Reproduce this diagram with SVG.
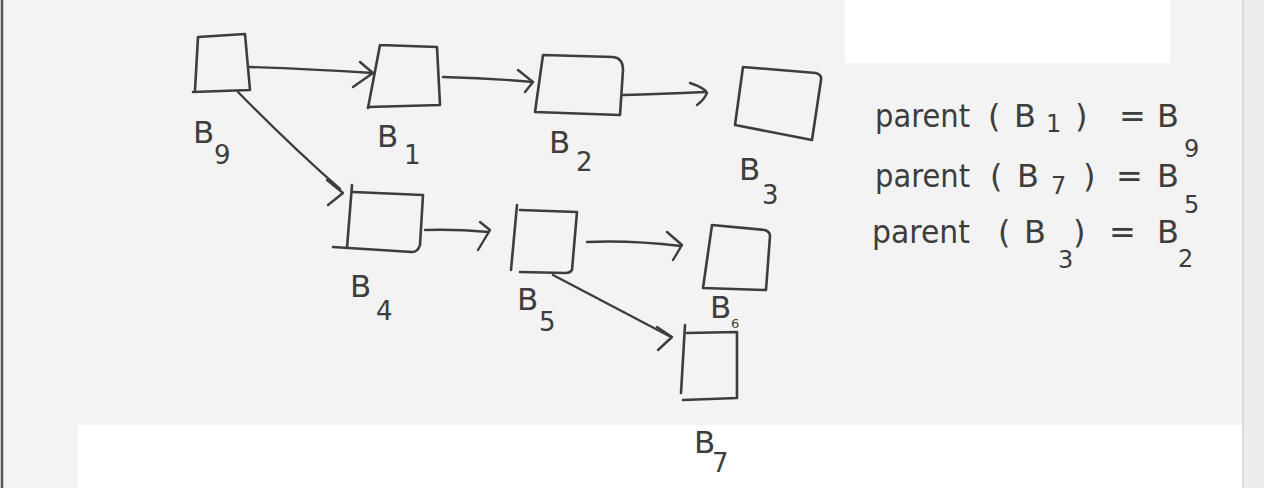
<svg xmlns="http://www.w3.org/2000/svg" width="1264" height="488" viewBox="0 0 1264 488">
<style>
.bx{fill:none;stroke:#3d3d3d;stroke-width:2.6;stroke-linecap:round;stroke-linejoin:round}
.ln{fill:none;stroke:#3d3d3d;stroke-width:2.4;stroke-linecap:round;stroke-linejoin:round}
.lb{font-family:"DejaVu Sans","Liberation Sans",sans-serif;fill:#3d3d3d;font-size:31px}
.sb{font-family:"DejaVu Sans","Liberation Sans",sans-serif;fill:#3d3d3d;font-size:26px}
.eq{font-family:"DejaVu Sans","Liberation Sans",sans-serif;fill:#3d3d3d;font-size:32px}
.es{font-family:"DejaVu Sans","Liberation Sans",sans-serif;fill:#3d3d3d;font-size:24px}
</style>
<rect x="0" y="0" width="1264" height="488" fill="#f3f3f3"/>
<rect x="845" y="0" width="325" height="63" fill="#ffffff"/>
<rect x="78" y="425" width="1164" height="63" fill="#ffffff"/>
<rect x="1243" y="0" width="21" height="488" fill="#ececec"/>
<line x1="1243" y1="0" x2="1243" y2="488" stroke="#d6d6d6" stroke-width="1.5"/>
<line x1="2" y1="0" x2="2" y2="488" stroke="#555555" stroke-width="2.5"/>

<g id="connectors">
  <path class="ln" d="M250,67 Q310,69 373,73"/>
  <path class="ln" d="M360,62 L373,73 L353,87"/>
  <path class="ln" d="M443,77 Q490,78 533,82"/>
  <path class="ln" d="M518,70 L533,82 L525,92"/>
  <path class="ln" d="M623,95 Q660,94 705,92"/>
  <path class="ln" d="M690,83 Q705,88 707,93 Q704,100 697,105"/>
  <path class="ln" d="M238,92 Q290,145 340,189"/>
  <path class="ln" d="M327,180 L343,193 L328,205"/>
  <path class="ln" d="M425,230 Q455,229 489,232"/>
  <path class="ln" d="M480,222 L490,230 L478,250"/>
  <path class="ln" d="M587,242 Q630,240 681,246"/>
  <path class="ln" d="M667,232 L682,245 L673,260"/>
  <path class="ln" d="M553,275 Q610,305 671,337"/>
  <path class="ln" d="M657,327 L672,337 L658,350"/>
</g>

<g id="B9">
  <path class="bx" d="M198,37 L245,34 L250,90 M193,92 L250,90 M198,37 L195,90"/>
  <text class="lb" x="193" y="143">B</text>
  <text class="sb" x="214" y="164">9</text>
</g>
<g id="B1">
  <path class="bx" d="M380,45 L437,47 L440,105 L368,107 M380,45 L368,108"/>
  <text class="lb" x="377" y="147">B</text>
  <text class="sb" x="404" y="164">1</text>
</g>
<g id="B2">
  <path class="bx" d="M543,55 L613,57 Q623,58 623,70 L620,115 L535,112 Z"/>
  <text class="lb" x="549" y="153">B</text>
  <text class="sb" x="576" y="171">2</text>
</g>
<g id="B3">
  <path class="bx" d="M743,67 L816,73 Q822,75 821,80 L812,140 L735,125 M743,67 L735,125"/>
  <text class="lb" x="739" y="180">B</text>
  <text class="sb" x="762" y="204">3</text>
</g>
<g id="B4">
  <path class="bx" d="M352,185 L347,248 M353,192 L423,195 L420,245 Q418,252 412,252 L333,247"/>
  <text class="lb" x="350" y="297">B</text>
  <text class="sb" x="376" y="320">4</text>
</g>
<g id="B5">
  <path class="bx" d="M517,205 L511,270 M520,210 L577,212 L572,270 Q570,273 566,273 L520,272"/>
  <text class="lb" x="517" y="310">B</text>
  <text class="sb" x="539" y="331">5</text>
</g>
<g id="B6">
  <path class="bx" d="M712,225 L765,230 Q770,232 770,236 L766,290 L703,288 Z"/>
  <text class="lb" x="710" y="318">B</text>
  <text class="sb" x="731" y="328" style="font-size:13px">6</text>
</g>
<g id="B7">
  <path class="bx" d="M685,325 L681,393 M687,333 L737,332 L737,398 L683,400"/>
  <text class="lb" x="694" y="453">B</text>
  <text class="sb" x="712" y="472">7</text>
</g>

<g id="parents">
  <text class="eq" y="127"><tspan x="875" textLength="95" lengthAdjust="spacingAndGlyphs">parent</tspan><tspan x="988">(</tspan><tspan x="1014">B</tspan><tspan x="1075">)</tspan><tspan x="1119">=</tspan><tspan x="1157">B</tspan></text>
  <text class="es" x="1046" y="132">1</text>
  <text class="es" x="1184" y="157">9</text>

  <text class="eq" y="187"><tspan x="875" textLength="95" lengthAdjust="spacingAndGlyphs">parent</tspan><tspan x="990">(</tspan><tspan x="1017">B</tspan><tspan x="1083">)</tspan><tspan x="1116">=</tspan><tspan x="1157">B</tspan></text>
  <text class="es" x="1051" y="194">7</text>
  <text class="es" x="1184" y="213">5</text>

  <text class="eq" y="243"><tspan x="872" textLength="98" lengthAdjust="spacingAndGlyphs">parent</tspan><tspan x="998">(</tspan><tspan x="1024">B</tspan><tspan x="1073">)</tspan><tspan x="1109">=</tspan><tspan x="1157">B</tspan></text>
  <text class="es" x="1058" y="268">3</text>
  <text class="es" x="1178" y="267">2</text>
</g>
</svg>
